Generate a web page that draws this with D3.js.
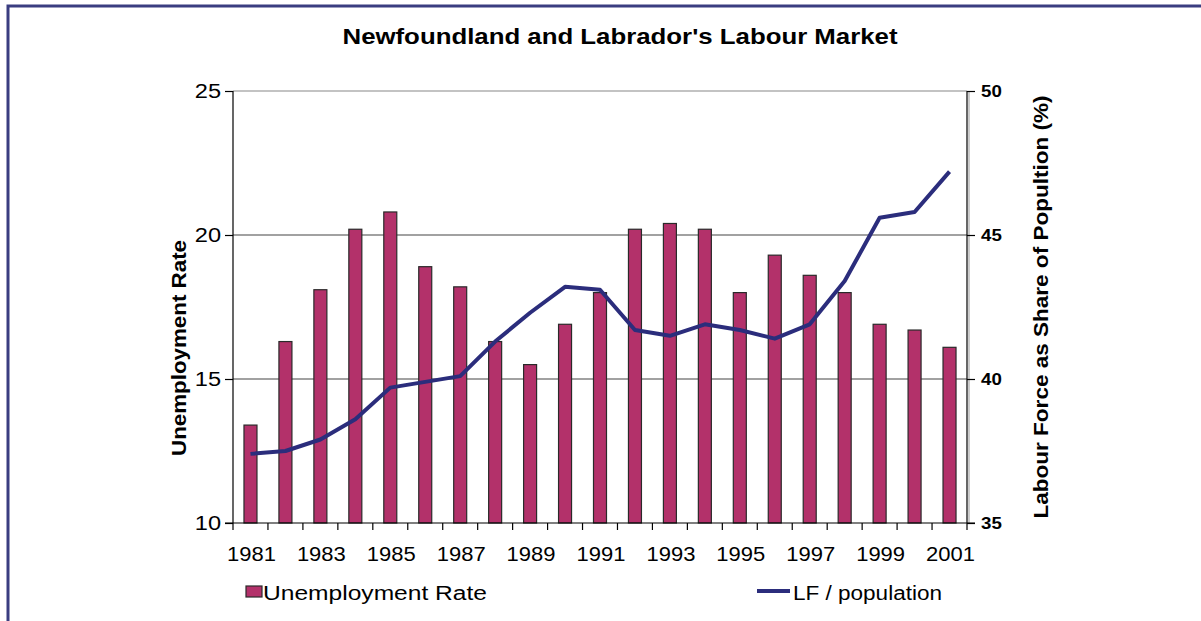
<!DOCTYPE html>
<html>
<head>
<meta charset="utf-8">
<script src="https://cdn.jsdelivr.net/npm/d3@7"></script>
<style>
  body { margin: 0; background: #fff; }
  svg text { font-family: Arial, "Liberation Sans", sans-serif; }
</style>
</head>
<body>
<div id="main"></div>
<script>
'use strict';

// data
var years = ['1981','1982','1983','1984','1985','1986','1987','1988','1989','1990','1991',
             '1992','1993','1994','1995','1996','1997','1998','1999','2000','2001'];
var unemployment = [13.4, 16.3, 18.1, 20.2, 20.8, 18.9, 18.2, 16.3, 15.5, 16.9, 18.0,
                    20.2, 20.4, 20.2, 18.0, 19.3, 18.6, 18.0, 16.9, 16.7, 16.1];
var lfShare = [37.4, 37.5, 37.9, 38.6, 39.7, 39.9, 40.1, 41.3, 42.3, 43.2, 43.1,
               41.7, 41.5, 41.9, 41.7, 41.4, 41.9, 43.4, 45.6, 45.8, 47.2];
var leftTicks = [10, 15, 20, 25];
var rightTicks = [35, 40, 45, 50];
var yearLabels = years.filter(function(d, i){ return i % 2 === 0; });

var width = 1201, height = 621;
var plot = { left: 233, right: 967, top: 91, bottom: 523 };

var svg = d3.select('#main').append('svg')
  .attr('width', width).attr('height', height);

// the reference text is a bit wider than Arial, stretch it along its run
function stretch(sel, k) {
  sel.each(function(){
    var w = this.getComputedTextLength();
    d3.select(this).attr('textLength', w * k).attr('lengthAdjust', 'spacingAndGlyphs');
  });
}
function fit(sel, w) {
  sel.attr('textLength', w).attr('lengthAdjust', 'spacingAndGlyphs');
}

// outer frame (only top and left edges show)
svg.append('path')
  .attr('d', 'M8,621 V6 H1201')
  .attr('fill', 'none')
  .attr('stroke', '#3a3d80')
  .attr('stroke-width', 3);

var x = d3.scaleBand().domain(years).range([plot.left, plot.right]);
var yL = d3.scaleLinear().domain([10, 25]).range([plot.bottom, plot.top]);
var yR = d3.scaleLinear().domain([35, 50]).range([plot.bottom, plot.top]);

// title
svg.append('text')
  .attr('x', 620).attr('y', 44)
  .attr('text-anchor', 'middle')
  .style('font-size', '22px').style('font-weight', 'bold')
  .text("Newfoundland and Labrador's Labour Market")
  .call(fit, 555);

// grid lines
svg.append('g').selectAll('line')
  .data(leftTicks.slice(1)).enter()
  .append('line')
  .attr('x1', plot.left).attr('x2', plot.right)
  .attr('y1', function(d){ return yL(d); })
  .attr('y2', function(d){ return yL(d); })
  .attr('stroke', function(d){ return d === 25 ? '#888' : '#444'; })
  .attr('stroke-width', 1.2);

// right plot-area edge
svg.append('line')
  .attr('x1', plot.right + 2).attr('x2', plot.right + 2)
  .attr('y1', plot.top).attr('y2', plot.bottom)
  .attr('stroke', '#999').attr('stroke-width', 1);

// bars
var barW = 13;
svg.append('g').selectAll('rect')
  .data(unemployment).enter()
  .append('rect')
  .attr('x', function(d, i){ return x(years[i]) + x.bandwidth() / 2 - barW / 2; })
  .attr('y', function(d){ return yL(d); })
  .attr('width', barW)
  .attr('height', function(d){ return yL(10) - yL(d); })
  .attr('fill', '#b3316a')
  .attr('stroke', '#2a2a2a')
  .attr('stroke-width', 1.2);

// line
var line = d3.line()
  .x(function(d, i){ return x(years[i]) + x.bandwidth() / 2; })
  .y(function(d){ return yR(d); });

svg.append('path')
  .datum(lfShare)
  .attr('d', line)
  .attr('fill', 'none')
  .attr('stroke', '#2b2d7c')
  .attr('stroke-width', 4)
  .attr('stroke-linejoin', 'round');

// left axis
var axL = svg.append('g')
  .attr('transform', 'translate(' + plot.left + ',0)')
  .call(d3.axisLeft(yL).tickValues(leftTicks).tickSize(8).tickPadding(4));
axL.selectAll('text').style('font-size', '20px').attr('fill', '#000').call(stretch, 1.18);
axL.selectAll('line, path').attr('stroke', '#000').attr('stroke-width', 1.2);
axL.select('.domain').attr('d', 'M0,' + plot.top + 'V' + plot.bottom);

// right axis
var axR = svg.append('g')
  .attr('transform', 'translate(' + plot.right + ',0)')
  .call(d3.axisRight(yR).tickValues(rightTicks).tickSize(8).tickPadding(6));
axR.selectAll('text').style('font-size', '17px').style('font-weight', 'bold').attr('fill', '#000')
  .call(stretch, 1.1);
axR.selectAll('line, path').attr('stroke', '#000').attr('stroke-width', 1.2);
axR.select('.domain').attr('d', 'M0,' + plot.top + 'V' + plot.bottom);

// bottom axis: ticks at band edges, labels every other year
var edges = years.map(function(d){ return x(d); }).concat([plot.right]);
svg.append('line')
  .attr('x1', plot.left - 8).attr('x2', plot.right + 8)
  .attr('y1', plot.bottom).attr('y2', plot.bottom)
  .attr('stroke', '#000').attr('stroke-width', 1.2);
svg.append('g').selectAll('line')
  .data(edges).enter()
  .append('line')
  .attr('x1', function(d){ return d; }).attr('x2', function(d){ return d; })
  .attr('y1', plot.bottom).attr('y2', plot.bottom + 7)
  .attr('stroke', '#000').attr('stroke-width', 1.2);
svg.append('g').selectAll('text')
  .data(yearLabels).enter()
  .append('text')
  .attr('x', function(d){ return x(d) + x.bandwidth() / 2 + 1; })
  .attr('y', plot.bottom + 38)
  .attr('text-anchor', 'middle')
  .style('font-size', '20px')
  .text(function(d){ return d; })
  .call(stretch, 1.1);

// axis titles
svg.append('text')
  .attr('transform', 'translate(186,348) rotate(-90)')
  .attr('text-anchor', 'middle')
  .style('font-size', '20px').style('font-weight', 'bold')
  .text('Unemployment Rate')
  .call(fit, 216);

svg.append('text')
  .attr('transform', 'translate(1048,307) rotate(-90)')
  .attr('text-anchor', 'middle')
  .style('font-size', '20px').style('font-weight', 'bold')
  .text('Labour Force as Share of Popultion (%)')
  .call(fit, 423);

// legend
var legend = svg.append('g');
legend.append('rect')
  .attr('x', 246).attr('y', 586).attr('width', 16).attr('height', 11)
  .attr('fill', '#b3316a').attr('stroke', '#2a2a2a').attr('stroke-width', 1.2);
legend.append('text')
  .attr('x', 263).attr('y', 600)
  .style('font-size', '20px')
  .text('Unemployment Rate')
  .call(fit, 224);
legend.append('line')
  .attr('x1', 757).attr('x2', 790).attr('y1', 591).attr('y2', 591)
  .attr('stroke', '#2b2d7c').attr('stroke-width', 4);
legend.append('text')
  .attr('x', 793).attr('y', 600)
  .style('font-size', '20px')
  .text('LF / population')
  .call(fit, 149);
</script>
</body>
</html>
